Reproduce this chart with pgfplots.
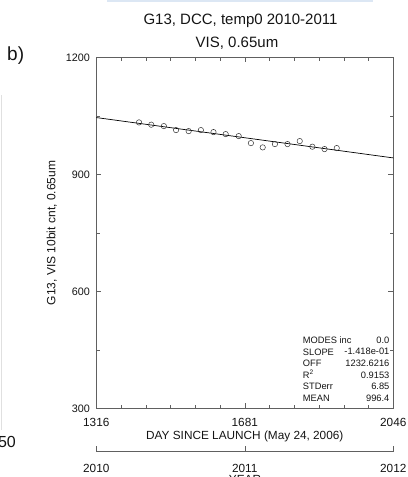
\documentclass[border=0pt]{standalone}
\usepackage{fontspec}
\setmainfont{Liberation Sans}
\usepackage{pgfplots}
\pgfplotsset{compat=1.18}
\definecolor{txt}{HTML}{141414}
\definecolor{axc}{HTML}{606060}
\definecolor{topband}{HTML}{DCE7F4}
\begin{document}
\begin{tikzpicture}[x=1bp,y=1bp]
% top band and left edge line
\fill[topband] (107,474.5) rectangle (373,477);
\draw[black!12, line width=0.6bp] (1,477-95) -- (1,477-430);
% titles
\node[txt, font=\fontsize{15bp}{18bp}\selectfont] at (240.5,456.5) {G13, DCC, temp0 2010-2011};
\node[txt, font=\fontsize{15bp}{18bp}\selectfont] at (237,433.5) {VIS, 0.65um};
\node[txt, font=\fontsize{19bp}{21bp}\selectfont, anchor=west, inner sep=0] at (7,421) {b)};
\node[txt, font=\fontsize{16bp}{19bp}\selectfont, anchor=east, inner sep=0] at (16,35) {50};
\begin{axis}[
  at={(96.3bp,68.5bp)}, anchor=south west,
  scale only axis, width=297bp, height=351bp,
  xmin=1316, xmax=2046, ymin=300, ymax=1200,
  xtick={1316,1681,2046}, ytick={300,600,900,1200},
  minor x tick num=5, minor y tick num=1,
  tick align=inside,
  major tick length=5bp, minor tick length=3.5bp,
  every tick/.style={axc, line width=0.6bp},
  axis line style={axc, line width=0.9bp},
  /pgf/number format/assume math mode=true,
  /pgf/number format/1000 sep={},
  xticklabel style={font=\fontsize{11.8bp}{13bp}\selectfont, txt, yshift=-6.5bp},
  yticklabel style={font=\fontsize{10.8bp}{12bp}\selectfont, txt, xshift=-3bp},
  xlabel={DAY SINCE LAUNCH (May 24, 2006)},
  xlabel style={font=\fontsize{11.8bp}{13bp}\selectfont, txt, yshift=3bp},
  ylabel={G13, VIS 10bit cnt, 0.65um},
  ylabel style={font=\fontsize{12bp}{14bp}\selectfont, txt, yshift=2bp},
  clip=false,
]
\addplot[black, line width=0.7bp, no marks] coordinates {(1316,1046.0) (2046,942.5)};
\addplot[only marks, mark=o, mark size=2.7bp, mark options={black!80, line width=0.5bp}] coordinates {
(1421,1033.6) (1451,1027.7) (1482,1024.1) (1512,1013.9) (1543,1011.3)
(1573,1013.9) (1604,1008.7) (1634,1003.6) (1666,998.5) (1696,980.5)
(1725,969.5) (1755,978.0) (1786,978.0) (1816,985.7) (1847,971.3)
(1877,965.2) (1907,967.7)};
\node[txt, anchor=north west, inner sep=0, font=\fontsize{9.3bp}{11.6bp}\selectfont, align=left]
  at (rel axis cs:0.695,0.205) {MODES inc\\SLOPE\\OFF\\R\smash{\textsuperscript{2}}\\STDerr\\MEAN};
\node[txt, anchor=north east, inner sep=0, font=\fontsize{9.3bp}{11.6bp}\selectfont, align=right]
  at (rel axis cs:0.9875,0.205) {0.0\\-1.418e-01\\1232.6216\\0.9153\\6.85\\996.4};
\end{axis}
\begin{axis}[
  at={(96.3bp,25.3bp)}, anchor=south west,
  scale only axis, width=297bp, height=20bp,
  xmin=2010, xmax=2012, ymin=0, ymax=1,
  axis x line*=bottom, hide y axis,
  xtick={2010,2011,2012},
  tick align=inside, major tick length=6bp,
  every tick/.style={axc, line width=0.6bp},
  axis line style={axc, line width=0.9bp, -},
  /pgf/number format/assume math mode=true,
  /pgf/number format/1000 sep={},
  xticklabel style={font=\fontsize{11.8bp}{13bp}\selectfont, txt, yshift=-9bp},
]
\addplot[draw=none] coordinates {(2010,0) (2012,0)};
\end{axis}
\node[txt, font=\fontsize{11.8bp}{13bp}\selectfont, anchor=north, inner sep=0] at (245,2) {YEAR};
\pgfresetboundingbox
\useasboundingbox (0,0) rectangle (407,477);
\end{tikzpicture}
\end{document}
